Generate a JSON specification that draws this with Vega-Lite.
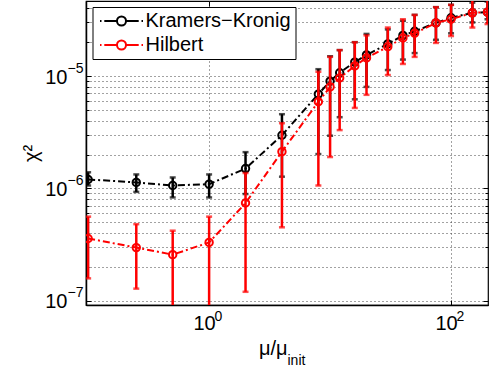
{
  "$schema": "https://vega.github.io/schema/vega-lite/v6.json",
  "width": 402,
  "height": 304,
  "autosize": {"type": "none"},
  "padding": {"left": 86, "top": 1, "right": 8, "bottom": 67},
  "datasets": {
    "chi2": [
      {"series": "Kramers−Kronig", "x": 0.1, "y": 1.2e-6, "lo": 1.06e-6, "hi": 1.39e-6},
      {"series": "Kramers−Kronig", "x": 0.25, "y": 1.13e-6, "lo": 9.3e-7, "hi": 1.33e-6},
      {"series": "Kramers−Kronig", "x": 0.5, "y": 1.06e-6, "lo": 8.3e-7, "hi": 1.25e-6},
      {"series": "Kramers−Kronig", "x": 1, "y": 1.09e-6, "lo": 8.3e-7, "hi": 1.33e-6},
      {"series": "Kramers−Kronig", "x": 2, "y": 1.5e-6, "lo": 8.9e-7, "hi": 2.1e-6},
      {"series": "Kramers−Kronig", "x": 4, "y": 2.97e-6, "lo": 1.27e-6, "hi": 4.57e-6},
      {"series": "Kramers−Kronig", "x": 8, "y": 6.9e-6, "lo": 2.02e-6, "hi": 1.15e-5},
      {"series": "Kramers−Kronig", "x": 10, "y": 9.0e-6, "lo": 2.94e-6, "hi": 1.5e-5},
      {"series": "Kramers−Kronig", "x": 12, "y": 1.07e-5, "lo": 4.3e-6, "hi": 1.7e-5},
      {"series": "Kramers−Kronig", "x": 16, "y": 1.33e-5, "lo": 6.2e-6, "hi": 2.0e-5},
      {"series": "Kramers−Kronig", "x": 20, "y": 1.54e-5, "lo": 8.0e-6, "hi": 2.37e-5},
      {"series": "Kramers−Kronig", "x": 30, "y": 1.93e-5, "lo": 1.13e-5, "hi": 2.6e-5},
      {"series": "Kramers−Kronig", "x": 40, "y": 2.3e-5, "lo": 1.4e-5, "hi": 3.1e-5},
      {"series": "Kramers−Kronig", "x": 50, "y": 2.5e-5, "lo": 1.6e-5, "hi": 3.5e-5},
      {"series": "Kramers−Kronig", "x": 75, "y": 2.97e-5, "lo": 2.1e-5, "hi": 4.1e-5},
      {"series": "Kramers−Kronig", "x": 100, "y": 3.3e-5, "lo": 2.4e-5, "hi": 4.3e-5},
      {"series": "Kramers−Kronig", "x": 150, "y": 3.65e-5, "lo": 3.0e-5, "hi": 4.5e-5},
      {"series": "Kramers−Kronig", "x": 200, "y": 3.7e-5, "lo": 3.2e-5, "hi": 4.6e-5},
      {"series": "Hilbert", "x": 0.1, "y": 3.58e-7, "lo": 1.58e-7, "hi": 5.6e-7},
      {"series": "Hilbert", "x": 0.25, "y": 2.97e-7, "lo": 1.28e-7, "hi": 4.8e-7},
      {"series": "Hilbert", "x": 0.5, "y": 2.57e-7, "lo": 7e-8, "hi": 4.2e-7},
      {"series": "Hilbert", "x": 1, "y": 3.3e-7, "lo": 7e-8, "hi": 5.6e-7},
      {"series": "Hilbert", "x": 2, "y": 7.4e-7, "lo": 1.2e-7, "hi": 1.37e-6},
      {"series": "Hilbert", "x": 4, "y": 2.12e-6, "lo": 4.5e-7, "hi": 3.8e-6},
      {"series": "Hilbert", "x": 8, "y": 5.9e-6, "lo": 1.06e-6, "hi": 1.09e-5},
      {"series": "Hilbert", "x": 10, "y": 7.98e-6, "lo": 1.9e-6, "hi": 1.48e-5},
      {"series": "Hilbert", "x": 12, "y": 9.6e-6, "lo": 3.3e-6, "hi": 1.7e-5},
      {"series": "Hilbert", "x": 16, "y": 1.23e-5, "lo": 5.2e-6, "hi": 2.0e-5},
      {"series": "Hilbert", "x": 20, "y": 1.45e-5, "lo": 6.8e-6, "hi": 2.3e-5},
      {"series": "Hilbert", "x": 30, "y": 1.82e-5, "lo": 1.02e-5, "hi": 2.7e-5},
      {"series": "Hilbert", "x": 40, "y": 2.18e-5, "lo": 1.28e-5, "hi": 3.2e-5},
      {"series": "Hilbert", "x": 50, "y": 2.4e-5, "lo": 1.48e-5, "hi": 3.5e-5},
      {"series": "Hilbert", "x": 75, "y": 2.97e-5, "lo": 1.97e-5, "hi": 4.1e-5},
      {"series": "Hilbert", "x": 100, "y": 3.2e-5, "lo": 2.27e-5, "hi": 4.3e-5},
      {"series": "Hilbert", "x": 150, "y": 3.65e-5, "lo": 2.7e-5, "hi": 4.8e-5},
      {"series": "Hilbert", "x": 200, "y": 3.7e-5, "lo": 2.9e-5, "hi": 4.8e-5}
    ]
  },
  "data": {"name": "chi2"},
  "config": {
    "view": {"stroke": "#000", "strokeWidth": 1.2},
    "font": "Liberation Sans",
    "axis": {
      "labelFont": "Liberation Sans", "labelFontSize": 20, "labelColor": "#000",
      "titleFont": "Liberation Sans", "titleFontSize": 20, "titleFontWeight": "normal", "titleColor": "#000",
      "domainColor": "#000", "domainWidth": 1.5, "tickColor": "#000", "tickWidth": 1,
      "gridColor": "#444", "gridDash": [1, 3], "gridWidth": 1, "gridOpacity": 1
    }
  },
  "resolve": {"axis": {"x": "independent", "y": "independent"}},
  "layer": [
    {
      "mark": {"type": "point", "opacity": 0},
      "encoding": {
        "x": {"field": "x", "type": "quantitative", "scale": {"type": "log", "domain": [0.096, 202], "nice": false},
          "axis": {"orient": "bottom", "values": [1, 100], "labelExpr": "'10'", "labelOffset": -5, "grid": true, "tickSize": -5, "labelPadding": 13,
            "title": "μ/μ", "titleAnchor": "middle", "titleAlign": "right", "titlePadding": 5}},
        "y": {"field": "y", "type": "quantitative", "scale": {"type": "log", "domain": [9.156e-8, 4.652e-5], "nice": false},
          "axis": {
            "orient": "left",
            "values": [1e-7, 2e-7, 3e-7, 4e-7, 5e-7, 6e-7, 7e-7, 8e-7, 9e-7, 1e-6, 2e-6, 3e-6, 4e-6, 5e-6, 6e-6, 7e-6, 8e-6, 9e-6, 1e-5, 2e-5, 3e-5, 4e-5],
            "labelExpr": "datum.value == 1e-7 || datum.value == 1e-6 || datum.value == 1e-5 ? '10' : ''",
            "labelOffset": 1,
            "grid": true,
            "tickSize": {"condition": {"test": "datum.value == 1e-7 || datum.value == 1e-6 || datum.value == 1e-5", "value": -5}, "value": -3},
            "labelPadding": 24, "title": "χ²", "titlePadding": 3}}
      }
    },
    {
      "mark": {"type": "point", "opacity": 0},
      "encoding": {
        "x": {"field": "x", "type": "quantitative", "scale": {"type": "log", "domain": [0.096, 202], "nice": false},
          "axis": {"orient": "bottom", "values": [1, 100], "labelExpr": "datum.value == 1 ? '0' : '2'", "labelFontSize": 14, "labelAlign": "left", "labelOffset": 5,
            "ticks": false, "domain": false, "grid": false, "labelPadding": 4,
            "title": "init", "titleFontSize": 14, "titleAnchor": "middle", "titleAlign": "left", "titlePadding": 30}},
        "y": {"field": "y", "type": "quantitative", "scale": {"type": "log", "domain": [9.156e-8, 4.652e-5], "nice": false},
          "axis": {
            "orient": "left",
            "values": [1e-7, 1e-6, 1e-5],
            "labelExpr": "datum.value == 1e-7 ? '−7' : datum.value == 1e-6 ? '−6' : '−5'",
            "labelFontSize": 14, "labelOffset": -8,
            "ticks": false, "domain": false, "grid": false, "labelPadding": 3, "title": null}}
      }
    },
    {
      "mark": {"type": "point", "opacity": 0},
      "encoding": {
        "x": {"field": "x", "type": "quantitative", "scale": {"type": "log", "domain": [0.096, 202], "nice": false},
          "axis": {"orient": "top", "values": [1, 100], "labels": false, "grid": false, "domain": false, "tickSize": -5, "title": null}},
        "y": {"field": "y", "type": "quantitative", "scale": {"type": "log", "domain": [9.156e-8, 4.652e-5], "nice": false},
          "axis": {"orient": "right", "labels": false, "grid": false, "domain": false, "title": null,
            "values": [1e-7, 2e-7, 3e-7, 4e-7, 5e-7, 6e-7, 7e-7, 8e-7, 9e-7, 1e-6, 2e-6, 3e-6, 4e-6, 5e-6, 6e-6, 7e-6, 8e-6, 9e-6, 1e-5, 2e-5, 3e-5, 4e-5],
            "tickSize": {"condition": {"test": "datum.value == 1e-7 || datum.value == 1e-6 || datum.value == 1e-5", "value": -5}, "value": -3}}}
      }
    },
    {
      "transform": [{"filter": "datum.series == 'Kramers−Kronig'"}],
      "layer": [
        {
          "mark": {"type": "rule", "strokeWidth": 2.5, "color": "#000", "clip": true},
          "encoding": {
            "x": {"field": "x", "type": "quantitative", "scale": {"type": "log", "domain": [0.096, 202], "nice": false}, "axis": null},
            "y": {"field": "lo", "type": "quantitative", "scale": {"type": "log", "domain": [9.156e-8, 4.652e-5], "nice": false}, "axis": null},
            "y2": {"field": "hi"}
          }
        },
        {
          "mark": {"type": "tick", "orient": "horizontal", "size": 6, "thickness": 2.5, "color": "#000", "clip": true},
          "encoding": {
            "x": {"field": "x", "type": "quantitative", "scale": {"type": "log", "domain": [0.096, 202], "nice": false}, "axis": null},
            "y": {"field": "lo", "type": "quantitative", "scale": {"type": "log", "domain": [9.156e-8, 4.652e-5], "nice": false}, "axis": null}
          }
        },
        {
          "mark": {"type": "tick", "orient": "horizontal", "size": 6, "thickness": 2.5, "color": "#000", "clip": true},
          "encoding": {
            "x": {"field": "x", "type": "quantitative", "scale": {"type": "log", "domain": [0.096, 202], "nice": false}, "axis": null},
            "y": {"field": "hi", "type": "quantitative", "scale": {"type": "log", "domain": [9.156e-8, 4.652e-5], "nice": false}, "axis": null}
          }
        },
        {
          "mark": {"type": "line", "strokeWidth": 2, "strokeDash": [7, 3, 2, 3], "color": "#000", "clip": true},
          "encoding": {
            "x": {"field": "x", "type": "quantitative", "scale": {"type": "log", "domain": [0.096, 202], "nice": false}, "axis": null},
            "y": {"field": "y", "type": "quantitative", "scale": {"type": "log", "domain": [9.156e-8, 4.652e-5], "nice": false}, "axis": null}
          }
        },
        {
          "mark": {"type": "point", "filled": false, "size": 55, "strokeWidth": 2, "opacity": 1, "clip": true},
          "encoding": {
            "x": {"field": "x", "type": "quantitative", "scale": {"type": "log", "domain": [0.096, 202], "nice": false}, "axis": null},
            "y": {"field": "y", "type": "quantitative", "scale": {"type": "log", "domain": [9.156e-8, 4.652e-5], "nice": false}, "axis": null},
            "color": {"field": "series", "type": "nominal",
              "scale": {"domain": ["Kramers−Kronig", "Hilbert"], "range": ["#000000", "#ff0000"]},
              "legend": {
                "orient": "none", "legendX": 6.5, "legendY": 6, "title": null,
                "symbolType": "M-1,0L-0.93,0M-0.8,0L-0.25,0M0.25,0L0.8,0M0.93,0L1,0M0.21,0A0.21,0.21 0 1,1 -0.21,0A0.21,0.21 0 1,1 0.21,0Z",
                "symbolSize": 1850, "symbolStrokeWidth": 2, "symbolFillColor": "transparent", "symbolOffset": 2,
                "clipHeight": 20,
                "labelFont": "Liberation Sans", "labelFontSize": 20, "labelColor": "#000", "labelOffset": 1,
                "padding": 4, "rowPadding": 4, "strokeColor": "#000", "fillColor": "#fff", "cornerRadius": 0
              }}
          }
        }
      ]
    },
    {
      "transform": [{"filter": "datum.series == 'Hilbert'"}],
      "layer": [
        {
          "mark": {"type": "rule", "strokeWidth": 2.5, "color": "#ff0000", "clip": true},
          "encoding": {
            "x": {"field": "x", "type": "quantitative", "scale": {"type": "log", "domain": [0.096, 202], "nice": false}, "axis": null},
            "y": {"field": "lo", "type": "quantitative", "scale": {"type": "log", "domain": [9.156e-8, 4.652e-5], "nice": false}, "axis": null},
            "y2": {"field": "hi"}
          }
        },
        {
          "mark": {"type": "tick", "orient": "horizontal", "size": 6, "thickness": 2.5, "color": "#ff0000", "clip": true},
          "encoding": {
            "x": {"field": "x", "type": "quantitative", "scale": {"type": "log", "domain": [0.096, 202], "nice": false}, "axis": null},
            "y": {"field": "lo", "type": "quantitative", "scale": {"type": "log", "domain": [9.156e-8, 4.652e-5], "nice": false}, "axis": null}
          }
        },
        {
          "mark": {"type": "tick", "orient": "horizontal", "size": 6, "thickness": 2.5, "color": "#ff0000", "clip": true},
          "encoding": {
            "x": {"field": "x", "type": "quantitative", "scale": {"type": "log", "domain": [0.096, 202], "nice": false}, "axis": null},
            "y": {"field": "hi", "type": "quantitative", "scale": {"type": "log", "domain": [9.156e-8, 4.652e-5], "nice": false}, "axis": null}
          }
        },
        {
          "mark": {"type": "line", "strokeWidth": 2, "strokeDash": [7, 3, 2, 3], "color": "#ff0000", "clip": true},
          "encoding": {
            "x": {"field": "x", "type": "quantitative", "scale": {"type": "log", "domain": [0.096, 202], "nice": false}, "axis": null},
            "y": {"field": "y", "type": "quantitative", "scale": {"type": "log", "domain": [9.156e-8, 4.652e-5], "nice": false}, "axis": null}
          }
        },
        {
          "mark": {"type": "point", "filled": false, "size": 55, "strokeWidth": 2, "opacity": 1, "clip": true},
          "encoding": {
            "x": {"field": "x", "type": "quantitative", "scale": {"type": "log", "domain": [0.096, 202], "nice": false}, "axis": null},
            "y": {"field": "y", "type": "quantitative", "scale": {"type": "log", "domain": [9.156e-8, 4.652e-5], "nice": false}, "axis": null},
            "color": {"field": "series", "type": "nominal", "legend": null}
          }
        }
      ]
    }
  ]
}
